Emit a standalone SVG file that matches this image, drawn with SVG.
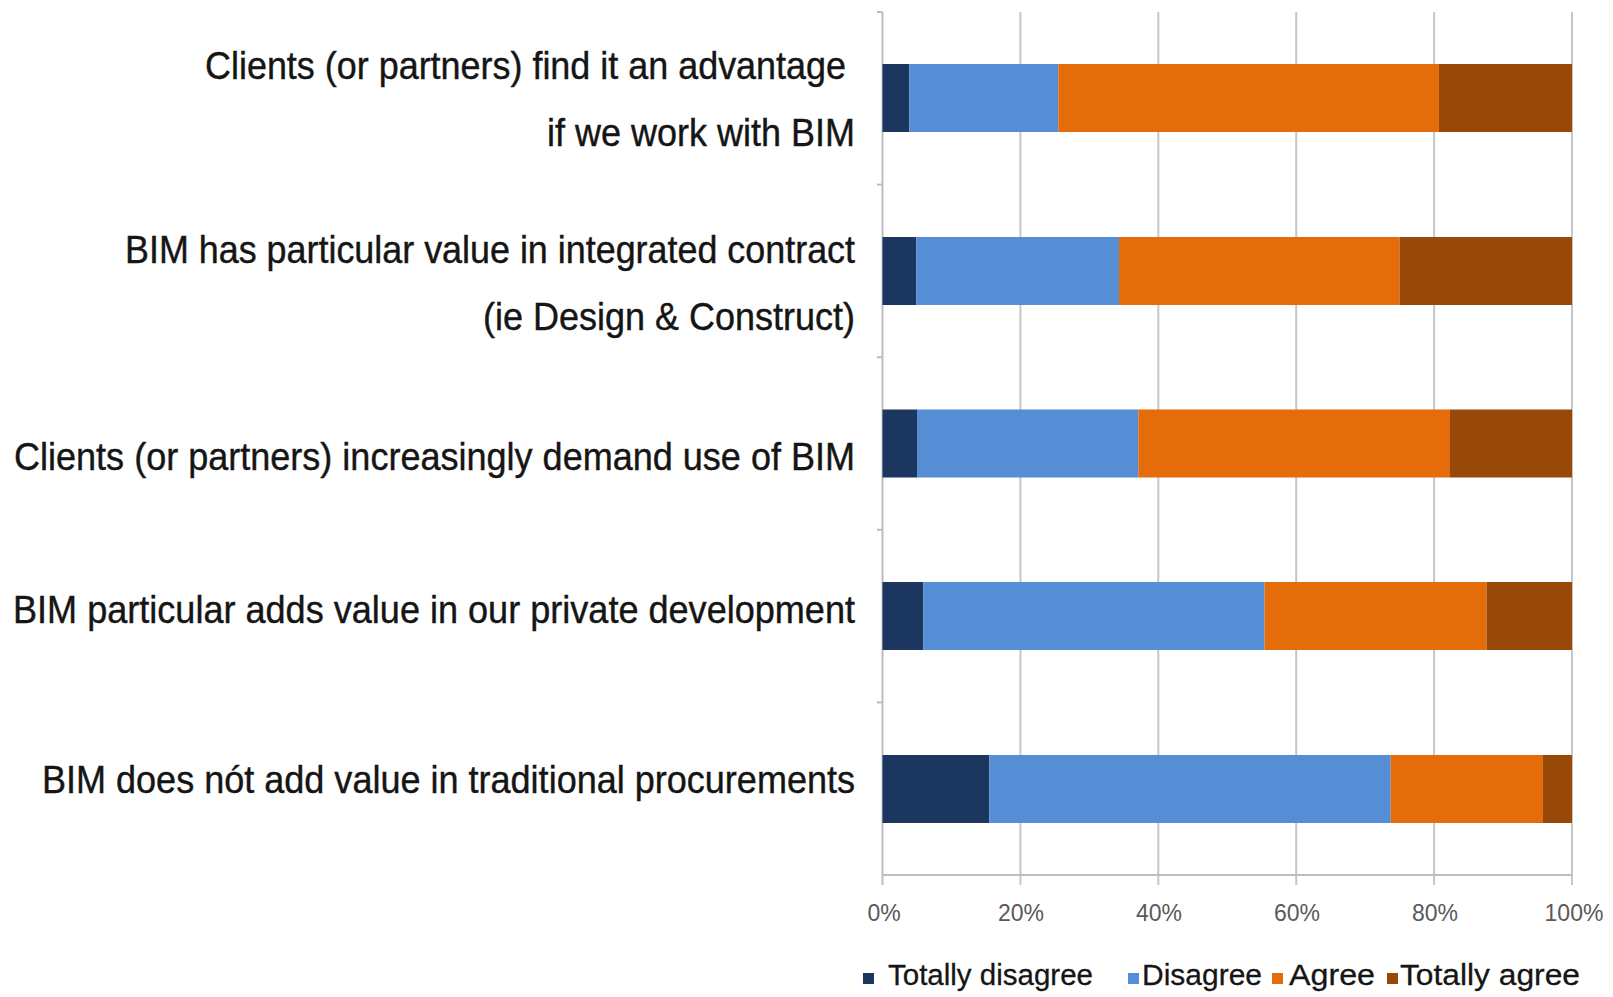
<svg xmlns="http://www.w3.org/2000/svg" width="1613" height="997" viewBox="0 0 1613 997">
<style>
.lbl{font-family:"Liberation Sans",Arial,sans-serif;font-size:38px;fill:#151515;stroke:#151515;stroke-width:0.4}
.tick{font-family:"Liberation Sans",Arial,sans-serif;font-size:23px;fill:#595959;text-anchor:middle}
.leg{font-family:"Liberation Sans",Arial,sans-serif;font-size:30px;fill:#151515;stroke:#151515;stroke-width:0.3}
.grid{stroke:#c6c6c6;stroke-width:2}
.axis{stroke:#bdbdbd;stroke-width:2}
.td{fill:#1b375f}
.d{fill:#558ed5}
.a{fill:#e46c0a}
.ta{fill:#984807}
</style>
<rect width="1613" height="997" fill="#ffffff"/>
<g id="grid">
<line class="grid" x1="1020.4" y1="12" x2="1020.4" y2="885"/>
<line class="grid" x1="1158.3" y1="12" x2="1158.3" y2="885"/>
<line class="grid" x1="1296.2" y1="12" x2="1296.2" y2="885"/>
<line class="grid" x1="1434.1" y1="12" x2="1434.1" y2="885"/>
<line class="grid" x1="1572" y1="12" x2="1572" y2="885"/>
</g>
<g id="axes">
<line class="axis" x1="882.5" y1="12" x2="882.5" y2="885"/>
<line class="axis" x1="882.5" y1="875" x2="1572" y2="875"/>
<line class="axis" x1="877" y1="12" x2="882.5" y2="12"/>
<line class="axis" x1="877" y1="184.6" x2="882.5" y2="184.6"/>
<line class="axis" x1="877" y1="357.2" x2="882.5" y2="357.2"/>
<line class="axis" x1="877" y1="529.8" x2="882.5" y2="529.8"/>
<line class="axis" x1="877" y1="702.4" x2="882.5" y2="702.4"/>
</g>
<g id="bar1">
<rect class="td" x="882.5" y="64" width="26.9" height="68"/>
<rect class="d" x="909.4" y="64" width="148.9" height="68"/>
<rect class="a" x="1058.3" y="64" width="380.6" height="68"/>
<rect class="ta" x="1438.9" y="64" width="133.1" height="68"/>
</g>
<g id="bar2">
<rect class="td" x="882.5" y="237" width="33.8" height="68"/>
<rect class="d" x="916.3" y="237" width="202.7" height="68"/>
<rect class="a" x="1119" y="237" width="280.6" height="68"/>
<rect class="ta" x="1399.6" y="237" width="172.4" height="68"/>
</g>
<g id="bar3">
<rect class="td" x="882.5" y="409.5" width="34.5" height="68"/>
<rect class="d" x="917" y="409.5" width="221.3" height="68"/>
<rect class="a" x="1138.3" y="409.5" width="311.7" height="68"/>
<rect class="ta" x="1450" y="409.5" width="122" height="68"/>
</g>
<g id="bar4">
<rect class="td" x="882.5" y="582" width="40.7" height="68"/>
<rect class="d" x="923.2" y="582" width="341.3" height="68"/>
<rect class="a" x="1264.5" y="582" width="222" height="68"/>
<rect class="ta" x="1486.5" y="582" width="85.5" height="68"/>
</g>
<g id="bar5">
<rect class="td" x="882.5" y="755" width="106.9" height="68"/>
<rect class="d" x="989.4" y="755" width="401.3" height="68"/>
<rect class="a" x="1390.7" y="755" width="152.3" height="68"/>
<rect class="ta" x="1543" y="755" width="29" height="68"/>
</g>
<g id="labels">
<text class="lbl" x="205" y="79" textLength="641" lengthAdjust="spacingAndGlyphs">Clients (or partners) find it an advantage</text>
<text class="lbl" x="547" y="146" textLength="308" lengthAdjust="spacingAndGlyphs">if we work with BIM</text>
<text class="lbl" x="125" y="263" textLength="730" lengthAdjust="spacingAndGlyphs">BIM has particular value in integrated contract</text>
<text class="lbl" x="483" y="330" textLength="372" lengthAdjust="spacingAndGlyphs">(ie Design &amp; Construct)</text>
<text class="lbl" x="14" y="470" textLength="841" lengthAdjust="spacingAndGlyphs">Clients (or partners) increasingly demand use of BIM</text>
<text class="lbl" x="13" y="623" textLength="842" lengthAdjust="spacingAndGlyphs">BIM particular adds value in our private development</text>
<text class="lbl" x="42" y="793" textLength="813" lengthAdjust="spacingAndGlyphs">BIM does nót add value in traditional procurements</text>
</g>
<g id="ticks">
<text class="tick" x="884" y="921">0%</text>
<text class="tick" x="1021" y="921">20%</text>
<text class="tick" x="1159" y="921">40%</text>
<text class="tick" x="1297" y="921">60%</text>
<text class="tick" x="1435" y="921">80%</text>
<text class="tick" x="1574" y="921">100%</text>
</g>
<g id="legend">
<rect class="td" x="863" y="973" width="11" height="11"/>
<text class="leg" x="888" y="985" textLength="205" lengthAdjust="spacingAndGlyphs">Totally disagree</text>
<rect class="d" x="1128" y="973" width="11" height="11"/>
<text class="leg" x="1142" y="985" textLength="120" lengthAdjust="spacingAndGlyphs">Disagree</text>
<rect class="a" x="1272" y="973" width="11" height="11"/>
<text class="leg" x="1289" y="985" textLength="86" lengthAdjust="spacingAndGlyphs">Agree</text>
<rect class="ta" x="1387" y="973" width="11" height="11"/>
<text class="leg" x="1400" y="985" textLength="180" lengthAdjust="spacingAndGlyphs">Totally agree</text>
</g>
</svg>
